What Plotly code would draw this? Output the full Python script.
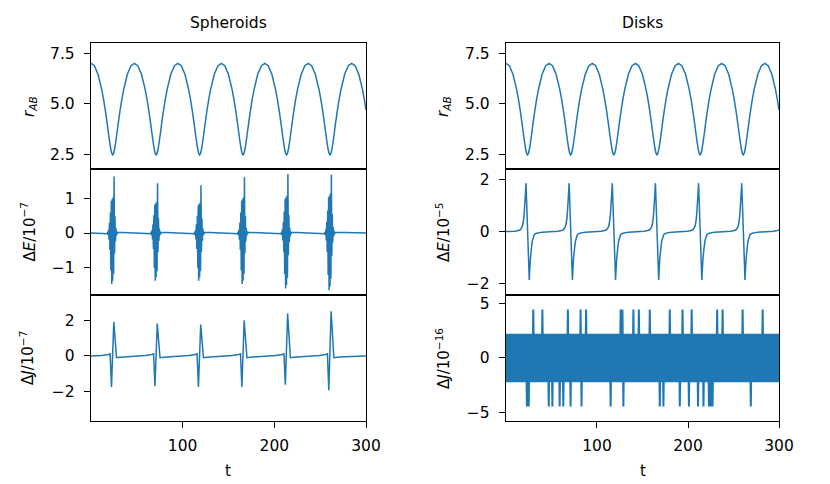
import plotly.graph_objects as go
from plotly.subplots import make_subplots

# ---------------------------------------------------------------------------
# Data
# ---------------------------------------------------------------------------

# separation r_AB (same orbit for spheroids and disks)
t_r = [0.0, 3.7, 7.7, 11.7, 13.7, 15.7, 17.7, 19.7, 20.7, 21.7, 22.7, 23.7, 24.7, 25.7, 26.7, 27.7, 29.7, 31.7, 33.7, 35.7, 39.7, 43.7,
       47.4, 51.1, 55.1, 59.1, 61.1, 63.1, 65.1, 67.1, 68.1, 69.1, 70.1, 71.1, 72.1, 73.1, 74.1, 75.1, 77.1, 79.1, 81.1, 83.1, 87.1, 91.1,
       94.8, 98.5, 102.5, 106.5, 108.5, 110.5, 112.5, 114.5, 115.5, 116.5, 117.5, 118.5, 119.5, 120.5, 121.5, 122.5, 124.5, 126.5, 128.5, 130.5, 134.5, 138.5,
       142.2, 145.9, 149.9, 153.9, 155.9, 157.9, 159.9, 161.9, 162.9, 163.9, 164.9, 165.9, 166.9, 167.9, 168.9, 169.9, 171.9, 173.9, 175.9, 177.9, 181.9, 185.9,
       189.6, 193.3, 197.3, 201.3, 203.3, 205.3, 207.3, 209.3, 210.3, 211.3, 212.3, 213.3, 214.3, 215.3, 216.3, 217.3, 219.3, 221.3, 223.3, 225.3, 229.3, 233.3,
       237.0, 240.7, 244.7, 248.7, 250.7, 252.7, 254.7, 256.7, 257.7, 258.7, 259.7, 260.7, 261.7, 262.7, 263.7, 264.7, 266.7, 268.7, 270.7, 272.7, 276.7, 280.7,
       284.4, 288.1, 292.1, 296.1, 298.1, 300.0]
r_ab = [7.00, 6.88, 6.46, 5.72, 5.24, 4.67, 4.03, 3.35, 3.04, 2.76, 2.57, 2.50, 2.57, 2.76, 3.04, 3.35, 4.03, 4.67, 5.24, 5.72, 6.46, 6.88,
        7.00, 6.88, 6.46, 5.72, 5.24, 4.67, 4.03, 3.35, 3.04, 2.76, 2.57, 2.50, 2.57, 2.76, 3.04, 3.35, 4.03, 4.67, 5.24, 5.72, 6.46, 6.88,
        7.00, 6.88, 6.46, 5.72, 5.24, 4.67, 4.03, 3.35, 3.04, 2.76, 2.57, 2.50, 2.57, 2.76, 3.04, 3.35, 4.03, 4.67, 5.24, 5.72, 6.46, 6.88,
        7.00, 6.88, 6.46, 5.72, 5.24, 4.67, 4.03, 3.35, 3.04, 2.76, 2.57, 2.50, 2.57, 2.76, 3.04, 3.35, 4.03, 4.67, 5.24, 5.72, 6.46, 6.88,
        7.00, 6.88, 6.46, 5.72, 5.24, 4.67, 4.03, 3.35, 3.04, 2.76, 2.57, 2.50, 2.57, 2.76, 3.04, 3.35, 4.03, 4.67, 5.24, 5.72, 6.46, 6.88,
        7.00, 6.88, 6.46, 5.72, 5.24, 4.67, 4.03, 3.35, 3.04, 2.76, 2.57, 2.50, 2.57, 2.76, 3.04, 3.35, 4.03, 4.67, 5.24, 5.72, 6.46, 6.88,
        7.00, 6.88, 6.46, 5.72, 5.24, 4.70]

# spheroids: energy error (units of 1e-7), bursts at each pericentre
t_de_sph = [0.0,
            17.7, 18.2, 18.7, 19.2, 19.7, 20.2, 20.7, 21.2, 21.7, 22.2, 22.7, 23.2, 23.7, 24.2, 24.7, 25.2, 25.7, 26.2, 26.7, 27.2, 27.7, 28.2, 28.7, 29.2,
            65.1, 65.6, 66.1, 66.6, 67.1, 67.6, 68.1, 68.6, 69.1, 69.6, 70.1, 70.6, 71.1, 71.6, 72.1, 72.6, 73.1, 73.6, 74.1, 74.6, 75.1, 75.6, 76.1, 76.6,
            112.5, 113.0, 113.5, 114.0, 114.5, 115.0, 115.5, 116.0, 116.5, 117.0, 117.5, 118.0, 118.5, 119.0, 119.5, 120.0, 120.5, 121.0, 121.5, 122.0, 122.5, 123.0, 123.5, 124.0,
            159.9, 160.4, 160.9, 161.4, 161.9, 162.4, 162.9, 163.4, 163.9, 164.4, 164.9, 165.4, 165.9, 166.4, 166.9, 167.4, 167.9, 168.4, 168.9, 169.4, 169.9, 170.4, 170.9, 171.4,
            207.3, 207.8, 208.3, 208.8, 209.3, 209.8, 210.3, 210.8, 211.3, 211.8, 212.3, 212.8, 213.3, 213.8, 214.3, 214.8, 215.3, 215.8, 216.3, 216.8, 217.3, 217.8, 218.3, 218.8,
            254.7, 255.2, 255.7, 256.2, 256.7, 257.2, 257.7, 258.2, 258.7, 259.2, 259.7, 260.2, 260.7, 261.2, 261.7, 262.2, 262.7, 263.2, 263.7, 264.2, 264.7, 265.2, 265.7, 266.2,
            300.0]
de_sph = [0.0,
          -0.02, 0.03, -0.06, 0.10, -0.20, 0.30, -0.50, 0.60, -1.10, 0.95, -1.50, 1.00, -1.40, 1.05, -1.20, 1.66, -0.60, 0.50, -0.25, 0.15, -0.08, 0.05, -0.03, 0.02,
          -0.02, 0.03, -0.06, 0.09, -0.19, 0.26, -0.47, 0.52, -1.02, 0.83, -1.40, 0.87, -1.30, 0.91, -1.12, 1.46, -0.56, 0.44, -0.23, 0.13, -0.07, 0.04, -0.03, 0.02,
          -0.02, 0.03, -0.06, 0.09, -0.19, 0.26, -0.47, 0.51, -1.02, 0.81, -1.40, 0.85, -1.30, 0.89, -1.12, 1.40, -0.56, 0.43, -0.23, 0.13, -0.07, 0.04, -0.03, 0.02,
          -0.02, 0.03, -0.06, 0.10, -0.20, 0.30, -0.50, 0.60, -1.10, 0.95, -1.50, 1.00, -1.40, 1.05, -1.20, 1.64, -0.60, 0.50, -0.25, 0.15, -0.08, 0.05, -0.03, 0.02,
          -0.02, 0.03, -0.07, 0.11, -0.22, 0.32, -0.55, 0.63, -1.20, 1.00, -1.63, 1.05, -1.53, 1.10, -1.31, 1.73, -0.65, 0.53, -0.27, 0.16, -0.09, 0.05, -0.03, 0.02,
          -0.02, 0.03, -0.07, 0.11, -0.22, 0.33, -0.56, 0.66, -1.23, 1.05, -1.68, 1.10, -1.57, 1.16, -1.34, 1.71, -0.67, 0.55, -0.28, 0.17, -0.09, 0.06, -0.03, 0.02,
          0.0]

# spheroids: angular momentum error (units of 1e-7)
t_dj_sph = [0.0,
            11.7, 19.0, 20.9, 22.4, 24.9, 27.9, 31.7, 39.7,
            59.1, 66.4, 68.3, 69.8, 72.3, 75.3, 79.1, 87.1,
            106.5, 113.8, 115.7, 117.2, 119.7, 122.7, 126.5, 134.5,
            153.9, 161.2, 163.1, 164.6, 167.1, 170.1, 173.9, 181.9,
            201.3, 208.6, 210.5, 212.0, 214.5, 217.5, 221.3, 229.3,
            248.7, 256.0, 257.9, 259.4, 261.9, 264.9, 268.7, 276.7,
            300.0]
dj_sph = [0.0,
          0.02, 0.08, 0.12, -1.74, 1.91, -0.10, -0.08, -0.04,
          0.02, 0.08, 0.12, -1.70, 1.82, -0.10, -0.08, -0.04,
          0.02, 0.08, 0.12, -1.74, 1.76, -0.10, -0.08, -0.04,
          0.02, 0.08, 0.12, -1.74, 2.00, -0.10, -0.08, -0.04,
          0.02, 0.08, 0.12, -1.61, 2.38, -0.10, -0.08, -0.04,
          0.02, 0.08, 0.12, -1.93, 2.51, -0.10, -0.08, -0.04,
          0.0]

# disks: energy error (units of 1e-5)
t_de_disk = [0.0,
             9.7, 13.7, 15.7, 17.7, 18.7, 19.7, 20.4, 21.2, 22.0, 25.6, 26.2, 26.9, 28.2, 29.0, 31.2, 33.7, 39.7,
             57.1, 61.1, 63.1, 65.1, 66.1, 67.1, 67.8, 68.6, 69.4, 73.0, 73.6, 74.3, 75.6, 76.4, 78.6, 81.1, 87.1,
             104.5, 108.5, 110.5, 112.5, 113.5, 114.5, 115.2, 116.0, 116.8, 120.4, 121.0, 121.7, 123.0, 123.8, 126.0, 128.5, 134.5,
             151.9, 155.9, 157.9, 159.9, 160.9, 161.9, 162.6, 163.4, 164.2, 167.8, 168.4, 169.1, 170.4, 171.2, 173.4, 175.9, 181.9,
             199.3, 203.3, 205.3, 207.3, 208.3, 209.3, 210.0, 210.8, 211.6, 215.2, 215.8, 216.5, 217.8, 218.6, 220.8, 223.3, 229.3,
             246.7, 250.7, 252.7, 254.7, 255.7, 256.7, 257.4, 258.2, 259.0, 262.6, 263.2, 263.9, 265.2, 266.0, 268.2, 270.7, 276.7,
             294.1, 298.1, 300.0]
de_disk = [0.0,
           0.01, 0.04, 0.07, 0.17, 0.30, 0.55, 0.90, 1.35, 1.85, -1.85, -1.40, -1.00, -0.57, -0.35, -0.11, -0.06, -0.02,
           0.01, 0.04, 0.07, 0.17, 0.30, 0.55, 0.90, 1.35, 1.85, -1.85, -1.40, -1.00, -0.57, -0.35, -0.11, -0.06, -0.02,
           0.01, 0.04, 0.07, 0.17, 0.30, 0.55, 0.90, 1.35, 1.85, -1.85, -1.40, -1.00, -0.57, -0.35, -0.11, -0.06, -0.02,
           0.01, 0.04, 0.07, 0.17, 0.30, 0.55, 0.90, 1.35, 1.85, -1.85, -1.40, -1.00, -0.57, -0.35, -0.11, -0.06, -0.02,
           0.01, 0.04, 0.07, 0.17, 0.30, 0.55, 0.90, 1.35, 1.85, -1.85, -1.40, -1.00, -0.57, -0.35, -0.11, -0.06, -0.02,
           0.01, 0.04, 0.07, 0.17, 0.30, 0.55, 0.90, 1.35, 1.85, -1.85, -1.40, -1.00, -0.57, -0.35, -0.11, -0.06, -0.02,
           0.01, 0.04, 0.06]

# disks: angular momentum error, round-off level (multiples of 2.22e-16), one sample per time unit
dj_quantum = 2.22
dj_disk_steps = [
    1, -1, 1, -1, 1, -1, 1, -1, 1, -1, 1, -1, 1, -1, 1, -1, 1, -1, 1, -1,
    1, -1, 1, -2, 1, -2, 1, -1, 1, -1, 2, -1, 1, -1, 1, -1, 1, -1, 1, -1,
    2, -1, 1, -1, 1, -1, 1, -2, 1, -1, 1, -2, 1, -1, 1, -1, 1, -1, 1, -2,
    1, -1, 1, -2, 1, -1, 1, -1, 2, -1, 1, -2, 1, -1, 1, -1, 1, -1, 1, -1,
    1, -1, 2, -2, 1, -1, 1, -1, 2, -1, 1, -1, 1, -1, 1, -1, 1, -1, 1, -1,
    1, -1, 1, -1, 1, -1, 1, -1, 1, -1, 1, -1, 1, -1, 1, -2, 1, -1, 1, -1,
    1, -1, 1, -1, 1, -1, 2, -1, 2, -2, 1, -1, 1, -1, 1, -1, 1, -1, 1, -1,
    2, -1, 1, -1, 1, -1, 2, -1, 1, -1, 1, -1, 1, -1, 1, -1, 1, -1, 2, -1,
    1, -1, 1, -1, 1, -1, 1, -1, 1, -2, 1, -1, 1, -2, 1, -1, 1, -1, 1, -1,
    2, -1, 1, -1, 1, -1, 1, -1, 1, -1, 1, -2, 1, -1, 2, -1, 1, -1, 1, -1,
    1, -2, 1, -1, 2, -1, 1, -1, 1, -1, 1, -2, 1, -1, 1, -1, 1, -2, 1, -1,
    1, -1, 1, -2, 1, -2, 1, -2, 1, -1, 1, -1, 2, -1, 1, -1, 1, -1, 2, -1,
    1, -1, 1, -1, 1, -1, 1, -1, 1, -1, 1, -1, 1, -1, 1, -1, 1, -1, 1, -1,
    2, -1, 1, -1, 1, -1, 1, -1, 1, -2, 1, -1, 1, -1, 1, -1, 1, -1, 1, -1,
    1, -1, 2, -1, 1, -1, 1, -1, 1, -1, 1, -1, 1, -1, 1, -1, 1, -1, 1, -1,
    1]
t_dj_disk = list(range(len(dj_disk_steps)))
dj_disk = [dj_quantum * s for s in dj_disk_steps]

# ---------------------------------------------------------------------------
# Figure
# ---------------------------------------------------------------------------

line_color = '#1f77b4'
font_family = 'DejaVu Sans'

fig = make_subplots(rows=3, cols=2)

panels = [
    (1, 1, t_r, r_ab, 1.5),
    (1, 2, t_r, r_ab, 1.5),
    (2, 1, t_de_sph, de_sph, 1.5),
    (2, 2, t_de_disk, de_disk, 1.5),
    (3, 1, t_dj_sph, dj_sph, 1.5),
    (3, 2, t_dj_disk, dj_disk, 2.0),
]
for row, col, xs, ys, lw in panels:
    fig.add_trace(go.Scatter(x=xs, y=ys, mode='lines',
                             line=dict(color=line_color, width=lw, simplify=False),
                             hoverinfo='skip', showlegend=False),
                  row=row, col=col)

# axes placement, matched to the reference pixels (830 x 484 canvas)
x_domains = {1: [0.1096, 0.4410], 2: [0.6096, 0.9386]}
y_domains = {1: [0.6508, 0.9112], 2: [0.3905, 0.6508], 3: [0.1302, 0.3905]}

y_ranges = {
    (1, 1): [1.8, 8.0], (1, 2): [1.8, 8.0],
    (2, 1): [-1.82, 1.88], (2, 2): [-2.42, 2.39],
    (3, 1): [-3.65, 3.42], (3, 2): [-5.76, 5.76],
}
y_ticks = {
    (1, 1): [2.5, 5.0, 7.5], (1, 2): [2.5, 5.0, 7.5],
    (2, 1): [-1, 0, 1], (2, 2): [-2, 0, 2],
    (3, 1): [-2, 0, 2], (3, 2): [-5, 0, 5],
}

axis_style = dict(showline=True, mirror=True, linecolor='black', linewidth=1.3,
                  showgrid=False, zeroline=False, tickcolor='black', tickwidth=1.2,
                  automargin=False,
                  tickfont=dict(family=font_family, size=15.5, color='black'))

for row in (1, 2, 3):
    for col in (1, 2):
        fig.update_xaxes(domain=x_domains[col], range=[0, 300], row=row, col=col,
                         tickvals=[100, 200, 300], ticklen=6, ticklabelstandoff=4,
                         ticks='outside' if row == 3 else '',
                         showticklabels=(row == 3), **axis_style)
        fmt = '.1f' if row == 1 else 'd'
        fig.update_yaxes(domain=y_domains[row], range=y_ranges[(row, col)], row=row, col=col,
                         tickvals=y_ticks[(row, col)], tickformat=fmt, ticks='outside',
                         ticklen=6, ticklabelstandoff=6, **axis_style)

# titles and axis labels
ann_font = dict(family=font_family, size=15, color='black')
title_font = dict(family=font_family, size=15.5, color='black')
notes = [
    dict(x=0.2753, y=0.9525, text='Spheroids', textangle=0, font=title_font),
    dict(x=0.7741, y=0.9525, text='Disks', textangle=0, font=title_font),
    dict(x=0.2753, y=0.027, text='t', textangle=0, font=ann_font),
    dict(x=0.7741, y=0.027, text='t', textangle=0, font=ann_font),
    dict(x=0.0361, y=0.781, text='<i>r</i><sub><i>AB</i></sub>', textangle=-90, font=ann_font),
    dict(x=0.0343, y=0.5207, text='Δ<i>E</i>/10<sup>−7</sup>', textangle=-90, font=ann_font),
    dict(x=0.0325, y=0.2603, text='Δ<i>J</i>/10<sup>−7</sup>', textangle=-90, font=ann_font),
    dict(x=0.5349, y=0.781, text='<i>r</i><sub><i>AB</i></sub>', textangle=-90, font=ann_font),
    dict(x=0.5337, y=0.5207, text='Δ<i>E</i>/10<sup>−5</sup>', textangle=-90, font=ann_font),
    dict(x=0.5337, y=0.2603, text='Δ<i>J</i>/10<sup>−16</sup>', textangle=-90, font=ann_font),
]
for n in notes:
    fig.add_annotation(xref='paper', yref='paper', showarrow=False,
                       xanchor='center', yanchor='middle', **n)

fig.update_layout(width=830, height=484,
                  margin=dict(l=0, r=0, t=0, b=0),
                  paper_bgcolor='white', plot_bgcolor='white',
                  showlegend=False,
                  font=dict(family=font_family, color='black'))

# page body margin off so the 830x484 figure fills the window exactly; no toolbar
fig.write_html("out.html", config={'displayModeBar': False},
               post_script="document.body.style.margin = '0';")
